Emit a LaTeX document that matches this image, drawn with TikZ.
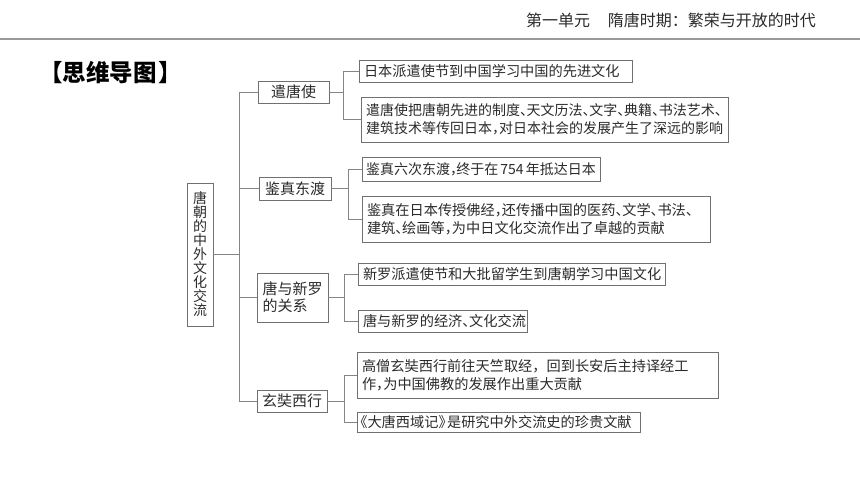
\documentclass[tikz,border=0pt]{standalone}
\usepackage{fontspec}
\setmainfont{Noto Sans CJK SC}
\definecolor{boxgray}{HTML}{707070}
\definecolor{linegray}{HTML}{858585}
\definecolor{txt}{HTML}{2A2A2A}
\definecolor{hdrline}{HTML}{9A9A9A}
\newcommand\pdun{\makebox[0.48em][l]{、}}
\newcommand\pdou{\makebox[0.5em][l]{，}}
\tikzset{
  box/.style={draw=boxgray, line width=0.8pt, text=txt, inner ysep=0pt},
  leaf/.style={box, inner xsep=5pt, align=left, font=\fontsize{14.2}{18}\selectfont},
  topic/.style={box, inner xsep=0pt, align=center, font=\fontsize{15}{17}\selectfont},
  conn/.style={draw=linegray, line width=0.8pt},
}
\begin{document}
\begin{tikzpicture}[x=1pt,y=-1pt]
\useasboundingbox (0,0) rectangle (860,484);
% header
\draw[hdrline, line width=1.6pt] (0,39) -- (860,39);
\node[anchor=east, inner sep=0pt, text=txt, font=\fontsize{16}{16}\selectfont] (hdr) at (816,20) {第一单元\hspace{1.1em}隋唐时期：繁荣与开放的时代};
\node[anchor=west, inner sep=0pt, text=black, font=\fontsize{23.5}{24}\bfseries] (title) at (39,73) {【思维导图\hspace{0.08em}】};
% root
\node[box, inner sep=0pt, minimum width=26pt, minimum height=143pt, align=center, font=\fontsize{14}{14}\selectfont] (root) at (200,254.5) {唐\\朝\\的\\中\\外\\文\\化\\交\\流};
% level 1
\node[topic, minimum width=71pt, minimum height=22pt] (a) at (293.5,92) {遣唐使};
\node[topic, minimum width=72pt, minimum height=23pt] (b) at (295,188.5) {鉴真东渡};
\node[topic, minimum width=71pt, minimum height=49pt, align=left] (c) at (292.5,297.5) {唐与新罗\\的关系};
\node[topic, minimum width=70pt, minimum height=22pt] (d) at (292,401) {玄奘西行};
% leaves
\node[leaf, text width=263pt, minimum height=22pt] (l1) at (495.5,71) {日本派遣使节到中国学习中国的先进文化};
\node[leaf, text width=357pt, minimum height=45pt, font=\fontsize{14}{18}\selectfont] (l2) at (544.5,119.5) {遣唐使把唐朝先进的制度\pdun 天文历法\pdun 文字\pdun 典籍\pdun 书法艺术\pdun\\建筑技术等传回日本\pdou 对日本社会的发展产生了深远的影响};
\node[leaf, inner xsep=4pt, text width=230pt, minimum height=24pt, font=\fontsize{14}{18}\selectfont] (l3) at (481,169) {\mbox{鉴真六次东渡\makebox[0.45em][l]{，}终于在\kern0.15em 754\kern0.15em 年抵达日本}};
\node[leaf, text width=338pt, minimum height=46pt] (l4) at (536,219) {鉴真在日本传授佛经\pdou 还传播中国的医药\pdun 文学\pdun 书法\pdun\\建筑\pdun 绘画等\pdou 为中日文化交流作出了卓越的贡献};
\node[leaf, text width=297pt, minimum height=22pt] (l5) at (511.5,274) {新罗派遣使节和大批留学生到唐朝学习中国文化};
\node[leaf, text width=159pt, minimum height=22pt] (l6) at (442.5,321) {唐与新罗的经济\pdun 文化交流};
\node[leaf, text width=351pt, minimum height=46pt] (l7) at (537.5,375) {高僧玄奘西行前往天竺取经，回到长安后主持译经工\\作\pdou 为中国佛教的发展作出重大贡献};
\node[leaf, inner xsep=2pt, text width=279pt, minimum height=20pt] (l8) at (498.5,422) {\makebox[0.6em][r]{《}大唐西域记\makebox[0.6em][l]{》}是研究中外交流史的珍贵文献};
% junction coordinates
\coordinate (t0) at (239,254.5);
\coordinate (ja) at (343,0);
\coordinate (jb) at (348,0);
\coordinate (jc) at (344,0);
\coordinate (jd) at (344,0);
% connectors level 0-1
\draw[conn] (root.east) -- (root.east -| t0);
\draw[conn] (a.west) -| (t0 |- d.west) -- (d.west);
\draw[conn] (b.west) -- (b.west -| t0);
\draw[conn] (c.west) -- (c.west -| t0);
% connectors level 1-2
\draw[conn] (a.east) -- (a.east -| ja);
\draw[conn] (l1.west) -| (ja |- l2.west) -- (l2.west);
\draw[conn] (b.east) -- (b.east -| jb);
\draw[conn] (l3.west) -| (jb |- l4.west) -- (l4.west);
\draw[conn] (c.east) -- (c.east -| jc);
\draw[conn] (l5.west) -| (jc |- l6.west) -- (l6.west);
\draw[conn] (d.east) -- (d.east -| jd);
\draw[conn] (l7.west) -| (jd |- l8.west) -- (l8.west);
\end{tikzpicture}
\end{document}
